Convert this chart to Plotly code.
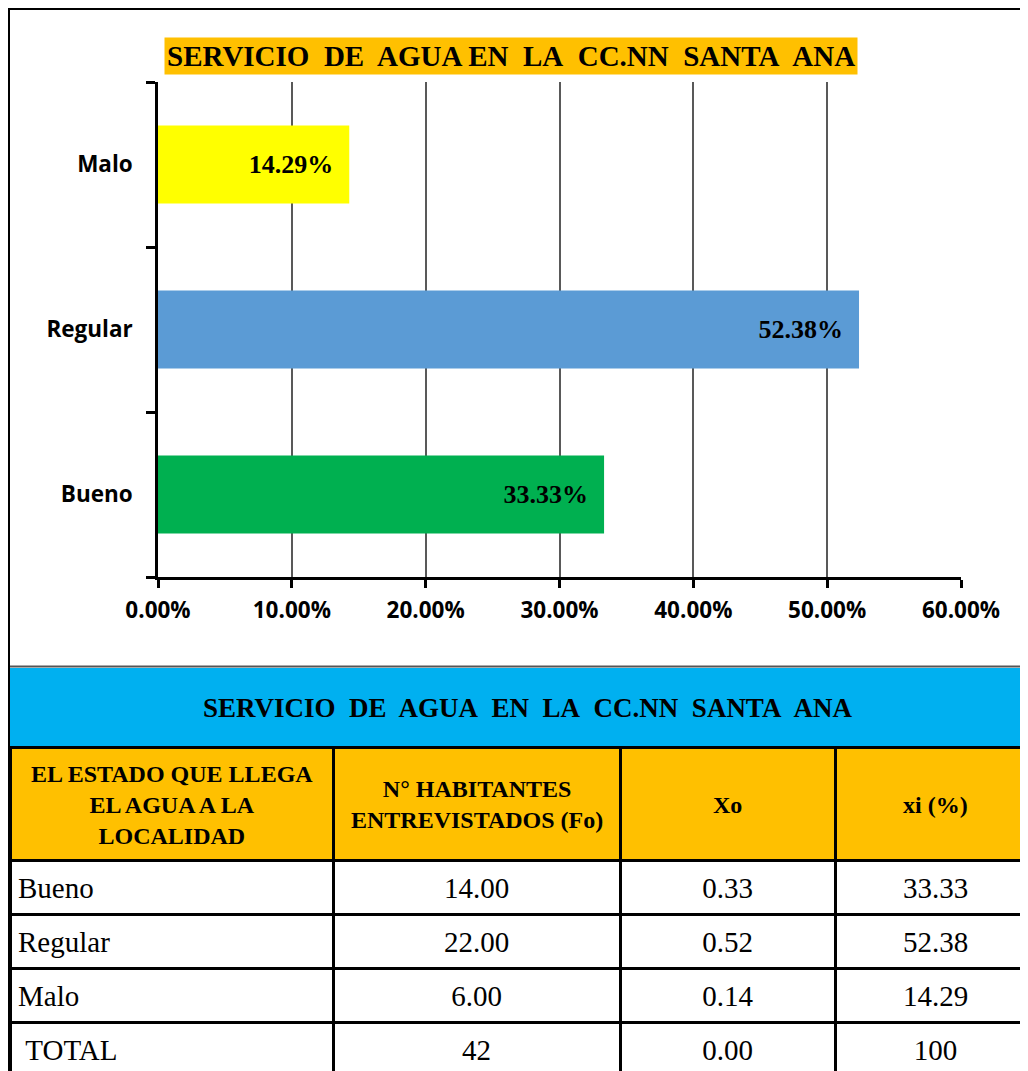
import plotly.graph_objects as go

# ---------------- data ----------------
categories = ["Bueno", "Regular", "Malo"]
pct_values = [33.33, 52.38, 14.29]          # bar lengths (%)
bar_colors = ["#00B050", "#5B9BD5", "#FFFF00"]
x_ticks = [0, 0.1, 0.2, 0.3, 0.4, 0.5, 0.6]
x_minor_grid = [0.1, 0.2, 0.3, 0.4, 0.5]

row_labels = ["Bueno", "Regular", "Malo", "\u00a0TOTAL"]
fo_values = ["14.00", "22.00", "6.00", "42"]
xo_values = ["0.33", "0.52", "0.14", "0.00"]
xi_values = ["33.33", "52.38", "14.29", "100"]

chart_title = "SERVICIO\u00a0 DE\u00a0 AGUA EN\u00a0 LA\u00a0 CC.NN\u00a0 SANTA\u00a0 ANA"
table_title = "SERVICIO\u00a0 DE\u00a0 AGUA\u00a0 EN\u00a0 LA\u00a0 CC.NN\u00a0 SANTA\u00a0 ANA"
header_labels = [
    "EL ESTADO QUE LLEGA<br>EL AGUA A LA<br>LOCALIDAD",
    "N° HABITANTES<br>ENTREVISTADOS (Fo)",
    "Xo",
    "xi (%)",
]
col_widths = [323, 287, 215, 201]

W, H = 1028, 1110   # figure taller than the window; the overflow is clipped
OFF = 8             # page offset of the figure inside the browser


def fx(x):
    return (x - OFF) / W


def fy(y):
    return 1 - (y - OFF) / H


fig = go.Figure()

fig.add_trace(go.Bar(
    y=categories,
    x=[v / 100 for v in pct_values],
    orientation="h",
    marker=dict(color=bar_colors, line=dict(width=0)),
    texttemplate="%{x:.2%}\u00a0\u00a0",
    textposition="inside",
    insidetextanchor="end",
    textfont=dict(family="Liberation Serif", size=26, color="black", weight="bold"),
    cliponaxis=False,
    hoverinfo="skip",
))

# blue band (single-column table header)
band_top, band_bot = 668, 747
fig.add_trace(go.Table(
    domain=dict(x=[fx(10), 1], y=[fy(band_bot), fy(band_top)]),
    columnwidth=[1],
    header=dict(
        values=[""],
        fill_color="#00B0F0",
        line=dict(color="#00B0F0", width=1),
        height=band_bot - band_top,
    ),
    cells=dict(values=[[]], height=1, line=dict(width=0)),
))

# main table: grid (fills + borders)
tbl_top = 747
hdr_h, row_h = 113, 54
fig.add_trace(go.Table(
    domain=dict(x=[fx(10), 1], y=[0, fy(tbl_top)]),
    columnwidth=col_widths,
    header=dict(
        values=[""] * len(header_labels),
        fill_color="#FFC000",
        line=dict(color="black", width=3),
        height=hdr_h,
    ),
    cells=dict(
        values=[[""] * len(row_labels)] * 4,
        fill_color="white",
        line=dict(color="black", width=3),
        height=row_h,
    ),
))

# main table: cell texts (transparent overlay, slightly lowered to centre text)
text_drop = 8
fig.add_trace(go.Table(
    domain=dict(x=[fx(10), 1], y=[0, fy(tbl_top)]),
    columnwidth=col_widths,
    header=dict(
        values=[""] * len(header_labels),
        fill_color="rgba(0,0,0,0)",
        line=dict(color="rgba(0,0,0,0)", width=0),
        height=hdr_h + text_drop,
    ),
    cells=dict(
        values=[row_labels, fo_values, xo_values, xi_values],
        fill_color="rgba(0,0,0,0)",
        line=dict(color="rgba(0,0,0,0)", width=0),
        align=["left", "center", "center", "center"],
        height=row_h,
        font=dict(family="Liberation Serif", size=29, color="black"),
    ),
))

axis_font = dict(family="Open Sans", size=22.5, color="black", weight="bold")

fig.update_layout(
    width=W, height=H,
    margin=dict(l=0, r=0, t=0, b=0, autoexpand=False),
    paper_bgcolor="white",
    plot_bgcolor="white",
    showlegend=False,
    bargap=0.527,
    xaxis=dict(
        domain=[fx(158), fx(961)],
        anchor="y",
        range=[0, 0.6],
        tickvals=x_ticks,
        tickformat=".2%",
        tickfont=axis_font,
        ticks="outside", ticklen=8, tickwidth=2.5, tickcolor="black",
        showline=True, linecolor="black", linewidth=2.5,
        showgrid=False, zeroline=False,
        ticklabelstandoff=3,
        minor=dict(tickvals=x_minor_grid, showgrid=True, gridcolor="#595959",
                   gridwidth=1.5, ticks=""),
        fixedrange=True,
    ),
    yaxis=dict(
        domain=[fy(577), fy(82)],
        anchor="x",
        tickfont=axis_font,
        ticks="outside", ticklen=9, tickwidth=2.5, tickcolor="black",
        tickson="boundaries",
        showline=True, linecolor="black", linewidth=2.5,
        showgrid=False, zeroline=False,
        ticklabelstandoff=18,
        fixedrange=True,
    ),
    yaxis2=dict(
        overlaying="y", side="right", anchor="x",
        showline=True, linecolor="#D9D9D9", linewidth=1.5,
        showticklabels=False, ticks="", showgrid=False, zeroline=False,
        fixedrange=True,
    ),
)

# chart title with orange background
fig.add_annotation(
    x=fx(511), y=fy(56), xref="paper", yref="paper",
    text="<b>" + chart_title + "</b>",
    showarrow=False,
    font=dict(family="Liberation Serif", size=29, color="black"),
    bgcolor="#FFC000",
    borderpad=2,
    xanchor="center", yanchor="middle",
)

# blue band title
fig.add_annotation(
    x=fx(527), y=fy(708), xref="paper", yref="paper",
    text="<b>" + table_title + "</b>",
    showarrow=False,
    font=dict(family="Liberation Serif", size=27, color="black"),
    xanchor="center", yanchor="middle",
)

# header labels, centred in each header cell (positions from the column widths)
total_w = sum(col_widths)
x_left = fx(10)
span = 1 - x_left
acc = 0
for lab, w in zip(header_labels, col_widths):
    cx = x_left + span * (acc + w / 2) / total_w
    acc += w
    fig.add_annotation(
        x=cx, y=fy(tbl_top + hdr_h / 2 + 1), xref="paper", yref="paper",
        text="<b>" + lab + "</b>",
        showarrow=False, align="center",
        font=dict(family="Liberation Serif", size=24, color="black"),
        xanchor="center", yanchor="middle",
    )

# outer frame and separator
frame = [
    dict(x0=fx(8.5), x1=fx(8.5), y0=fy(8), y1=0, w=3, c="black"),
    dict(x0=fx(8), x1=1, y0=fy(8.5), y1=fy(8.5), w=3, c="black"),
    dict(x0=fx(10), x1=1, y0=fy(666.5), y1=fy(666.5), w=2, c="#555555"),
]
for f in frame:
    fig.add_shape(type="line", xref="paper", yref="paper",
                  x0=f["x0"], x1=f["x1"], y0=f["y0"], y1=f["y1"],
                  line=dict(color=f["c"], width=f["w"]), layer="above")

fig.write_html(
    "out.html",
    post_script="document.documentElement.style.overflow='hidden';"
                "document.body.style.overflow='hidden';",
)
